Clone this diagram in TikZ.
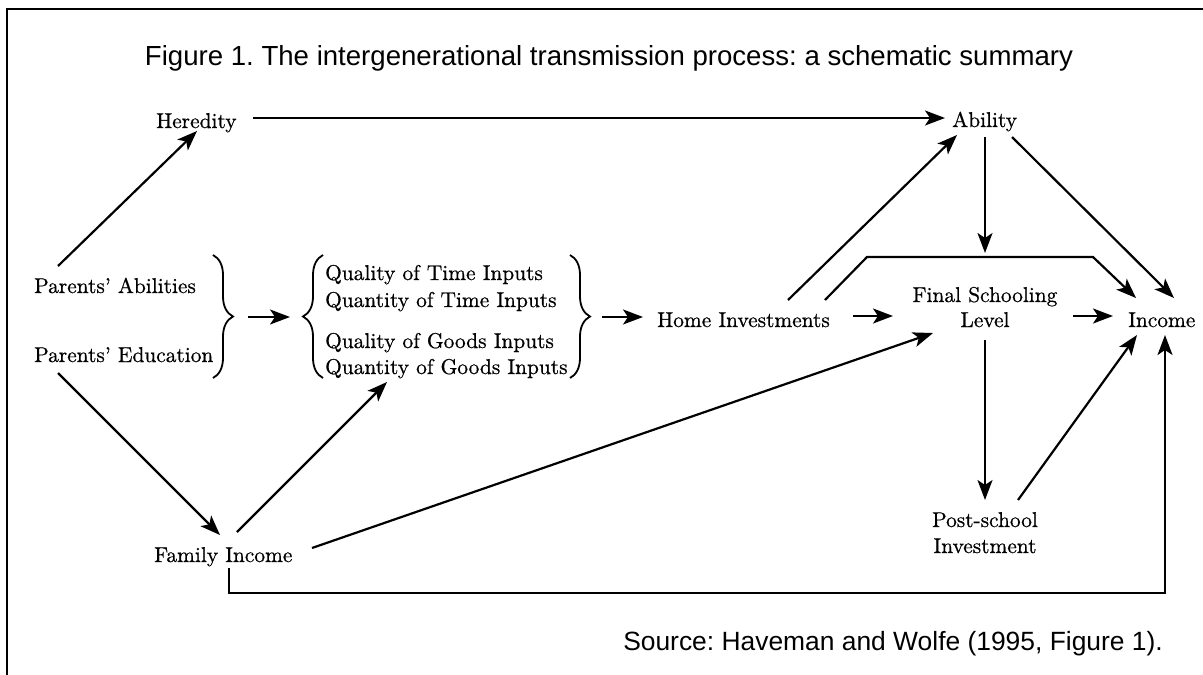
\documentclass[tikz,border=0pt]{standalone}
\usepackage{fontspec}
\newfontfamily\sansf{Liberation Sans}
\newfontfamily\diagf{lmroman10-regular.otf}[Ligatures=TeX,FakeBold=0.6]
\usetikzlibrary{arrows.meta,calc,decorations.pathreplacing}
\frenchspacing
\begin{document}
\begin{tikzpicture}[x=1pt,y=-1pt,
  lbl/.style={inner sep=0pt,font=\diagf\fontsize{21.4}{25}\selectfont},
  capt/.style={inner sep=0pt,font=\sansf\fontsize{27.6}{32}\selectfont},
  srct/.style={inner sep=0pt,font=\sansf\fontsize{26.4}{32}\selectfont},
  arr/.style={line width=2.2pt,line join=miter,-{Stealth[length=20pt,width=15pt,inset=5pt]}},
  brc/.style={line width=1.8pt,decorate,decoration={brace,amplitude=20pt}}]
\useasboundingbox (0,0) rectangle (1203,675);
% frame
\draw[line width=1.6pt] (7,675) -- (7,9) -- (1203,9);
% texts
\node[capt,anchor=base] (title) at (609,65) {Figure 1. The intergenerational transmission process: a schematic summary};
\node[srct,anchor=base east] (src) at (1163,650) {Source: Haveman and Wolfe (1995, Figure 1).};
\node[lbl,anchor=base west] (her) at (156,128) {Heredity};
\node[lbl,anchor=base west] (abl) at (952,127) {Ability};
\node[lbl,anchor=base west] (pabil) at (34,293) {Parents' Abilities};
\node[lbl,anchor=base west] (pedu) at (34,362) {Parents' Education};
\node[lbl,anchor=base west] (qt1) at (325,280) {Quality of Time Inputs};
\node[lbl,anchor=base west] (qt2) at (325,307) {Quantity of Time Inputs};
\node[lbl,anchor=base west] (qg1) at (325,348) {Quality of Goods Inputs};
\node[lbl,anchor=base west] (qg2) at (325,374) {Quantity of Goods Inputs};
\node[lbl,anchor=base west] (hinv) at (657,327) {Home Investments};
\node[lbl,anchor=base] (fsl) at (985,302) {Final Schooling};
\node[lbl,anchor=base] (lvl) at (985,327) {Level};
\node[lbl,anchor=base west] (inc) at (1128,327) {Income};
\node[lbl,anchor=base west] (fam) at (154,562) {Family Income};
\node[lbl,anchor=base] (psc) at (985,527) {Post-school};
\node[lbl,anchor=base] (pinv) at (985,553) {Investment};
% braces
\draw[brc] (213,255) -- (213,378);
\draw[brc] (323,378) -- (323,255);
\draw[brc] (570,255) -- (570,378);
\coordinate (tipA) at (235,317);
\coordinate (tipB) at (303,317);
\coordinate (tipC) at (592,317);
% connectors
\draw[arr] ($(pabil.base west)+(24,-27)$) -- ($(her.base west)+(41,3)$);
\draw[arr] ($(her.base west)+(97,-10)$) -- ($(abl.base west)+(-7,-9)$);
\draw[arr] ($(fsl.base |- abl.base)+(0,10)$) -- ($(fsl.base)+(0,-49)$);
\draw[arr] ($(abl.base west)+(60,10)$) -- ($(inc.base west)+(46,-29)$);
\draw[arr] ($(hinv.base west)+(131,-27)$) -- ($(abl.base west)+(5,8)$);
\draw[arr] ($(hinv.base west)+(168,-27)$) -- ($(hinv.base west)+(210,-70)$) -- ($(inc.base west)+(-35,-70)$) -- ($(inc.base west)+(8,-29)$);
\draw[arr] ($(hinv.base west)+(196,-11)$) -- ($(fsl.base)+(-92,14)$);
\draw[arr] ($(fsl.base)+(88,14)$) -- ($(inc.base west)+(-15,-11)$);
\draw[arr] ($(lvl.base)+(0,13)$) -- ($(psc.base)+(0,-27)$);
\draw[arr] ($(psc.base)+(33,-27)$) -- ($(inc.base west)+(9,8)$);
\draw[arr] ($(pedu.base west)+(24,11)$) -- ($(fam.base west)+(66,-27)$);
\draw[arr] ($(fam.base west)+(83,-30)$) -- ($(qg2.base west)+(62,8)$);
\draw[arr] ($(fam.base west)+(158,-14)$) -- ($(lvl.base)+(-52,6)$);
\draw[arr] ($(fam.base west)+(75,6)$) |- ($(inc.base west)+(37,266)$) -- ($(inc.base west)+(37,8)$);
\draw[arr] ($(tipA)+(13,0)$) -- ($(tipB)+(-13,0)$);
\draw[arr] ($(tipC)+(10,0)$) -- ($(hinv.base west)+(-14,-10)$);
\end{tikzpicture}
\end{document}
